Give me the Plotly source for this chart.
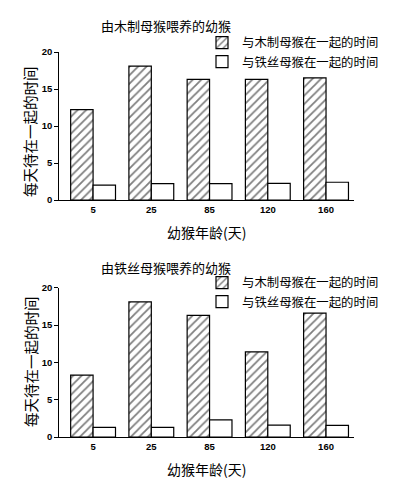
import plotly.graph_objects as go

ages = ["5", "25", "85", "120", "160"]
series_names = ["与木制母猴在一起的时间", "与铁丝母猴在一起的时间"]
titles = ["由木制母猴喂养的幼猴", "由铁丝母猴喂养的幼猴"]

top_wood = [12.2, 18.1, 16.3, 16.3, 16.5]
top_wire = [2.0, 2.2, 2.2, 2.25, 2.4]
bot_wood = [8.3, 18.1, 16.3, 11.4, 16.6]
bot_wire = [1.3, 1.3, 2.3, 1.6, 1.55]

y_ticks = [0, 5, 10, 15, 20]
x_title = "幼猴年龄(天)"
y_title = "每天待在一起的时间"

W, H = 393, 497
FONT = "Noto Sans CJK SC, Arial, sans-serif"

fig = go.Figure()

panels = [
    (top_wood, top_wire, "x", "y", "legend"),
    (bot_wood, bot_wire, "x2", "y2", "legend2"),
]

for wood, wire, xa, ya, lg in panels:
    fig.add_trace(go.Bar(
        x=ages, y=wood, name=series_names[0], xaxis=xa, yaxis=ya, legend=lg,
        marker=dict(color="white", line=dict(color="black", width=1.2),
                    pattern=dict(shape="/", fgcolor="black", bgcolor="white",
                                 size=6, solidity=0.3)),
    ))
    fig.add_trace(go.Bar(
        x=ages, y=wire, name=series_names[1], xaxis=xa, yaxis=ya, legend=lg,
        marker=dict(color="white", line=dict(color="black", width=1.2)),
    ))

x0, x1 = 59.3 / W, 354 / W

def ydom(ptop, pbot):
    return [1 - pbot / H, 1 - ptop / H]

tickfont = dict(family="Liberation Sans, Arial, sans-serif", size=9.5, color="black",
                weight="bold")

axis_common_x = dict(
    domain=[x0, x1], range=[-0.58, 4.48], showline=True, linecolor="black",
    linewidth=1.2, ticks="", showgrid=False, zeroline=False, automargin=False,
    tickfont=tickfont,
    title=dict(text=x_title, font=dict(family=FONT, size=14, color="black"), standoff=14),
)
axis_common_y = dict(
    range=[0, 20], tickvals=y_ticks, showline=True, linecolor="black",
    linewidth=1.2, ticks="outside", ticklen=4, tickcolor="black", showgrid=False,
    zeroline=False, automargin=False, tickfont=tickfont,
)

legend_common = dict(
    xanchor="left", yanchor="top",
    font=dict(family=FONT, size=12.4, color="black"),
    bgcolor="rgba(0,0,0,0)", tracegroupgap=0, itemwidth=30,
)

fig.update_layout(
    width=W, height=H,
    margin=dict(l=0, r=0, t=0, b=0, autoexpand=False),
    paper_bgcolor="white", plot_bgcolor="white",
    barmode="group", bargap=0.23, bargroupgap=0,
    xaxis=dict(**axis_common_x, anchor="y"),
    yaxis=dict(**axis_common_y, domain=ydom(52, 200), anchor="x"),
    xaxis2=dict(**axis_common_x, anchor="y2"),
    yaxis2=dict(**axis_common_y, domain=ydom(287.7, 437), anchor="x2"),
    legend=dict(x=202 / W, y=1 - 28 / H, **legend_common),
    legend2=dict(x=202 / W, y=1 - 268 / H, **legend_common),
    showlegend=True,
)

for ttl, ypx in zip(titles, [25, 267]):
    fig.add_annotation(text=ttl, x=166 / W, y=1 - ypx / H, xref="paper", yref="paper",
                       showarrow=False, xanchor="center", yanchor="middle",
                       font=dict(family=FONT, size=13, color="black"))

for ypx in [132, 362]:
    fig.add_annotation(text=y_title, x=30 / W, y=1 - ypx / H, xref="paper", yref="paper",
                       showarrow=False, xanchor="center", yanchor="middle", textangle=-90,
                       font=dict(family=FONT, size=14.5, color="black"))

fig.write_html("out.html", config={"displayModeBar": False},
               post_script="document.body.style.margin='0';document.body.style.padding='0';")
